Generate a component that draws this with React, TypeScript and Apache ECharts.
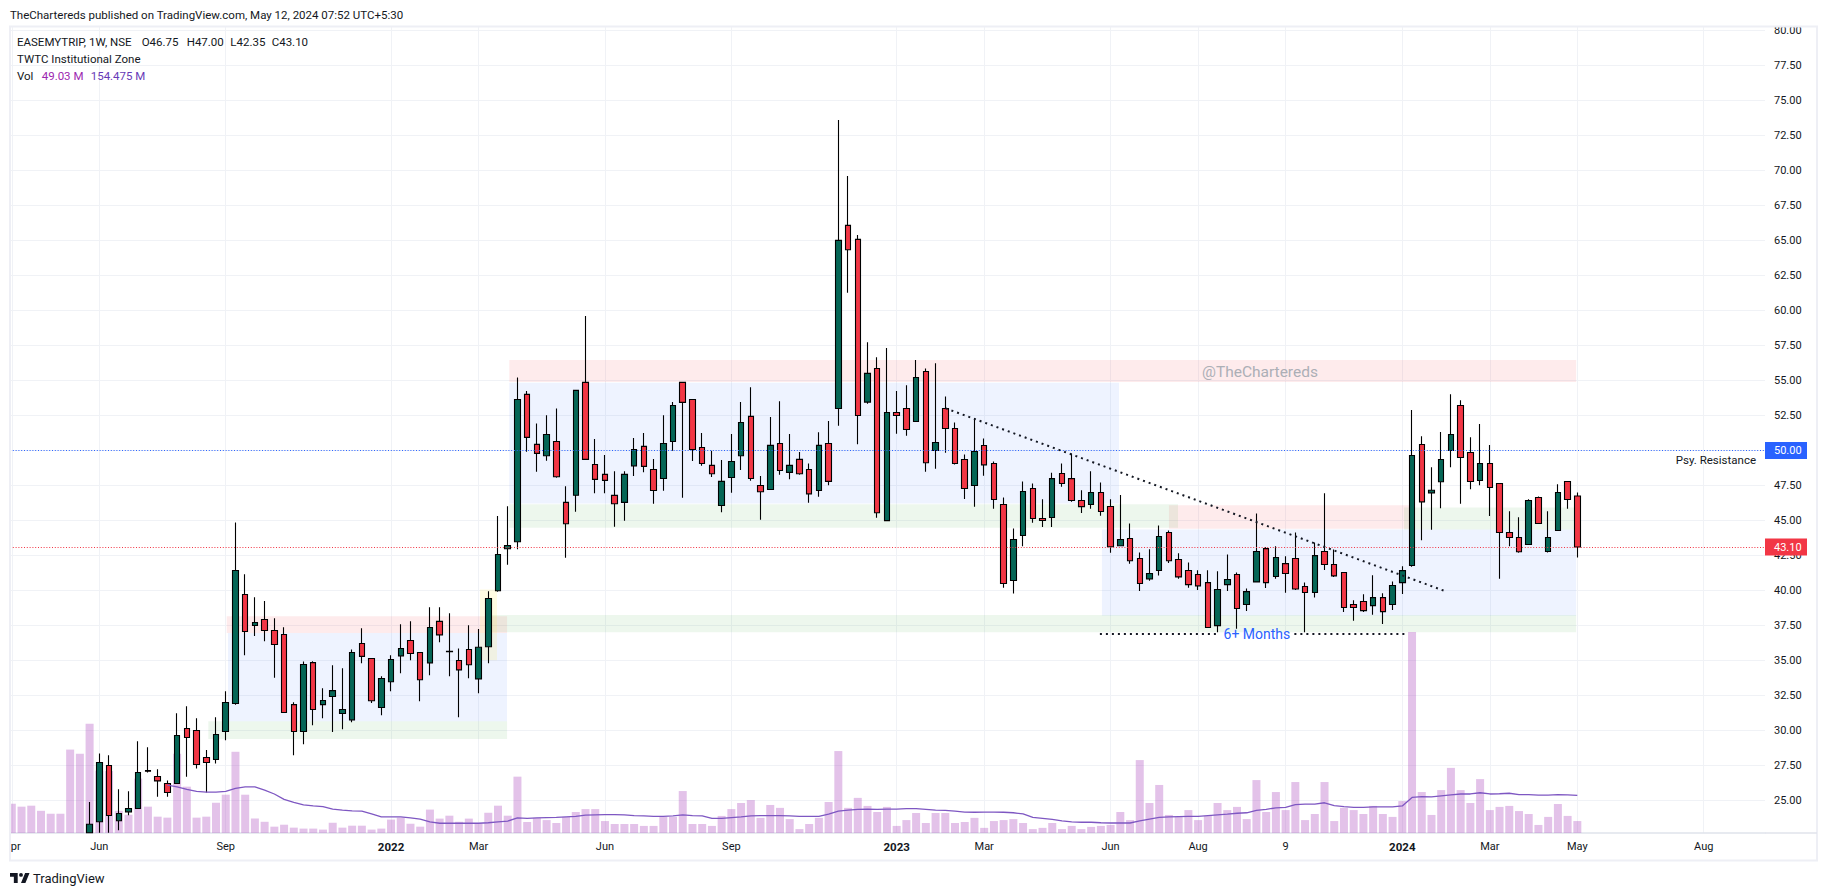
import React, { useEffect, useRef } from "react";
import * as echarts from "echarts";

const opens = [22.7,23.48,27.5,23.55,24.19,24.43,27.14,26.71,26.21,26.21,
30.14,30.0,28.07,27.93,29.93,31.93,39.71,37.5,37.93,37.14,
36.86,31.85,29.93,34.85,31.85,32.43,31.21,30.76,36.21,35.14,
31.64,33.48,35.33,36.43,35.57,34.83,37.79,35.66,35.0,35.78,
33.69,35.98,39.98,42.98,43.48,54.0,50.43,49.62,50.64,46.29,
46.8,54.86,49.0,48.29,46.79,46.29,48.9,50.29,48.64,48.0,
50.64,54.86,53.64,50.21,48.93,46.07,48.07,49.62,52.43,47.5,
47.21,50.5,48.43,49.36,48.64,47.14,50.5,53.0,66.07,65.07,
53.45,55.85,44.99,52.71,53.0,52.07,55.64,50.0,53.0,51.57,
49.35,47.5,50.35,49.07,46.14,40.71,43.92,47.28,45.14,45.21,
48.35,47.99,46.42,46.14,47.0,46.0,43.19,43.71,42.28,40.83,
41.43,44.14,42.21,41.43,41.14,40.56,37.49,40.42,41.14,39.0,
40.61,42.99,41.0,41.92,42.28,40.28,39.85,42.78,41.85,41.28,
39.0,39.21,38.92,39.49,39.0,40.56,41.78,50.42,46.97,47.76,
50.0,53.21,49.85,47.85,49.07,47.64,44.14,43.78,43.28,46.64,
42.78,44.28,47.78,46.75];
const closes = [23.3,27.71,23.93,24.07,24.43,27.0,27.09,26.4,25.57,29.64,
29.5,27.57,27.71,29.71,32.0,41.43,37.07,37.71,37.14,36.14,
31.29,29.93,34.71,31.5,32.14,32.85,31.5,35.57,35.29,32.12,
33.71,35.07,35.86,35.5,33.62,37.36,36.83,35.62,34.33,34.69,
35.95,39.43,42.57,43.21,53.64,50.93,49.79,51.14,48.12,44.76,
54.29,49.36,47.93,47.86,46.19,48.29,50.07,48.86,47.14,50.5,
53.21,53.43,50.07,49.07,48.33,47.79,49.21,52.0,48.0,47.05,
50.36,48.57,48.93,48.33,46.9,50.36,47.79,65.0,64.33,52.5,
55.5,45.55,52.71,52.5,51.5,55.21,49.12,50.57,51.57,49.07,
47.28,49.92,48.97,46.5,40.5,43.64,47.07,45.14,45.0,47.99,
47.64,46.42,45.99,47.0,45.64,43.12,43.64,42.12,40.5,41.21,
43.85,42.12,40.97,40.42,40.33,37.35,40.07,40.78,38.71,39.92,
42.78,40.56,42.35,41.21,40.11,39.85,42.49,41.85,41.04,38.78,
38.78,38.56,39.49,38.49,40.35,41.42,49.64,46.33,47.16,49.35,
51.14,49.5,47.78,49.07,47.35,44.14,43.78,42.76,46.42,44.78,
43.78,47.0,46.5,43.10];
const lows = [22.7,22.7,22.7,22.88,23.95,24.43,27.0,25.26,25.26,26.21,
26.69,27.29,25.57,27.64,29.31,31.83,35.38,36.74,36.38,33.76,
31.29,28.24,29.02,30.38,30.88,29.9,30.09,30.59,34.81,31.97,
31.09,32.81,34.09,35.02,32.09,33.95,36.31,33.88,30.95,33.74,
32.66,34.81,39.9,41.83,42.95,49.9,48.48,49.26,48.05,42.33,
45.62,49.36,46.95,46.95,44.55,44.98,48.17,48.45,46.19,47.12,
49.98,46.62,49.24,48.9,48.1,45.59,46.98,48.6,47.83,45.05,
47.21,48.26,47.95,48.26,46.26,46.69,47.52,51.76,61.26,50.45,
53.33,45.19,44.99,51.19,51.04,52.07,48.47,48.69,49.83,49.0,
46.54,45.97,48.19,45.83,40.19,39.78,43.16,44.83,44.54,44.54,
47.4,46.33,45.54,45.83,45.33,42.69,43.19,41.9,39.97,40.69,
41.07,41.97,40.83,40.19,40.04,37.35,37.02,39.97,37.26,38.54,
40.61,40.18,40.83,39.83,40.04,37.02,39.49,41.47,40.97,38.47,
37.83,38.47,38.26,37.61,38.61,39.75,41.69,43.59,44.33,45.88,
48.8,46.19,47.23,47.52,45.31,40.83,43.16,42.69,43.28,44.78,
42.71,44.28,45.83,42.35];
const highs = [24.9,28.36,28.24,25.81,25.66,29.24,28.81,27.24,26.43,31.24,
31.74,30.88,28.6,30.95,32.81,44.85,41.16,39.52,39.24,38.02,
37.38,32.02,34.93,34.95,33.02,34.66,34.45,35.78,37.31,35.14,
33.88,35.38,37.59,37.81,35.57,38.81,38.81,38.38,35.86,37.52,
37.24,39.95,45.31,46.02,55.21,54.24,51.93,52.52,53.0,47.45,
54.29,59.6,50.81,49.67,48.52,48.52,50.88,51.24,49.38,52.52,
53.45,54.86,53.64,51.24,49.98,49.31,51.17,53.45,54.52,48.17,
52.38,53.52,51.17,49.88,49.07,51.29,52.1,73.59,69.59,65.38,
57.73,56.66,57.31,54.24,54.66,56.45,55.85,56.23,53.85,52.0,
49.71,52.29,50.85,49.21,46.64,44.43,47.78,47.64,46.52,48.4,
49.07,49.78,47.16,48.52,47.71,46.52,46.81,44.78,42.71,42.95,
44.64,44.28,42.66,42.0,41.45,41.45,41.37,42.56,41.28,40.14,
45.49,43.11,43.16,42.45,44.14,40.56,43.42,46.95,42.92,41.28,
39.3,39.73,41.09,39.8,40.64,41.73,52.88,51.02,48.8,51.31,
54.02,53.59,50.95,51.88,50.38,47.64,45.66,45.23,46.52,46.71,
45.66,47.59,47.78,47.0];

// weekly volume in millions; the first entry belongs to week -8, the last to week 153
const volumes = [120,108,112,91,79,79,342,325,
448,255,254,91,75,223,108,67,63,325,
190,63,67,124,157,333,157,59,46,26,
34,22,18,18,14,42,22,30,30,14,
18,55,63,38,26,96,59,71,46,59,
38,83,112,71,231,45,62,53,41,66,
86,98,98,49,37,37,37,29,29,66,
66,172,37,37,29,70,98,123,135,62,
115,103,57,16,37,62,127,336,103,144,
111,86,107,29,53,82,41,82,82,41,
45,62,21,49,53,57,41,16,21,41,
16,29,16,25,29,33,86,53,299,123,
197,74,66,94,53,70,123,94,107,57,
217,86,168,94,209,53,78,209,49,103,
94,78,111,78,66,131,824,168,74,176,
267,176,123,221,94,107,111,90,78,33,
66,119,70,49.03];
// volume moving average; the first entry belongs to week 8
const volumeMA = [196,189,179,171,168,168,171,183,189,189,176,160,
138,126,115,111,108,98,94,91,90,78,66,66,66,62,57,46,40,40,40,40,40,42,46,49,62,
60,62,63,64,66,68,73,74,75,75,74,71,70,68,68,70,74,71,70,60,60,63,66,70,71,71,71,70,68,68,68,
77,90,94,97,98,97,98,98,100,100,97,94,93,90,86,85,86,86,85,83,78,64,60,56,50,46,44,44,42,41,41,41,
50,57,64,66,67,68,68,71,74,77,81,83,93,97,103,105,116,118,118,124,112,108,105,105,107,107,107,111,
146,149,148,152,156,160,160,165,160,161,163,157,157,155,155,157,156,154.475];

const priceTicks = [25,27.5,30,32.5,35,37.5,40,42.5,45,47.5,50,52.5,55,57.5,60,62.5,65,67.5,70,72.5,75,77.5,80];
const priceLabels = [25,27.5,30,32.5,35,37.5,40,42.5,45,47.5,52.5,55,57.5,60,62.5,65,67.5,70,72.5,75,77.5,80];
const timeGridWeeks = [-8,1,14,31,40,53,66,83,92,105,114,123,135,144,153,166];
const timeLabelWeeks = [-7.6,1,14,31,40,53,66,83,92,105,114,123,135,144,153,166];
const timeLabelTexts = ["pr","Jun","Sep","2022","Mar","Jun","Sep","2023","Mar","Jun","Aug","9","2024","Mar","May","Aug"];

// [weekFrom, priceFrom, weekTo, priceTo]
const redZones = [[14.1,38.16,42.93,36.97],[43.16,56.45,152.88,54.88],[111.0,46.09,135.7,44.4]];
const blueZones = [[14.23,36.97,42.93,30.66],[43.16,54.83,105.86,46.21],[104.11,44.36,152.88,38.2]];
const greenZones = [[12.21,30.66,42.93,29.4],[41.38,38.24,152.88,37.02],[43.16,46.16,111.93,44.47],[135.18,45.93,152.88,44.36]];
const yellowZones = [[40.15,40.07,41.9,35.02]];
const trendLine = [[88.05,53.0],[139.62,39.9]];
const baseLines = [[[103.9,36.88],[116.2,36.88]],[[123.9,36.88],[135.6,36.88]]];
const resistancePrice = 50;
const lastPrice = 43.1;
const notes = [
  { text: "Psy. Resistance", week: 167.25, price: 49.31, color: "#131722", size: 11.5 },
  { text: "6+ Months", week: 120.05, price: 36.88, color: "#2962FF", size: 14 },
  { text: "@TheChartereds", week: 120.36, price: 55.63, color: "#ACAFB6", size: 15.5 },
];

const FONT = "Roboto, 'Noto Sans', sans-serif";
const GRID_LINE = "#F0F2F6";
const weekMin = -8.186;
const weekMax = 172.3;

const zoneAreas = (zones: number[][], color: string) =>
  zones.map((z) => [
    { coord: [z[0], z[1]], itemStyle: { color, borderWidth: 0 } },
    { coord: [z[2], z[3]] },
  ]);

const logoPath =
  "M14 22H7V11H0V4h14v18zM28 22h-8l7.5-18h8L28 22zM20 4a3.5 3.5 0 1 1 0 7 3.5 3.5 0 0 1 0-7z";
echarts.graphic.registerShape("tvlogo", echarts.graphic.extendPath(logoPath, {}));

const legendText = (text: string, x: number, y: number, fill = "#131722") => ({
  type: "text",
  x,
  y,
  z: 50,
  style: { text, fill, font: `11.5px ${FONT}`, textAlign: "left", textVerticalAlign: "middle" },
});

const priceTag = (value: number, color: string) => ({
  show: true,
  position: "end",
  distance: 0,
  formatter: value.toFixed(2),
  color: "#fff",
  backgroundColor: color,
  fontFamily: FONT,
  fontSize: 11,
  width: 27,
  align: "left",
  padding: [2, 6, 2, 9],
  lineHeight: 13,
});

export default function App() {
  const ref = useRef<HTMLDivElement>(null);
  useEffect(() => {
    const chart = echarts.init(ref.current!, undefined, { renderer: "svg" });
    chart.setOption({
      animation: false,
      backgroundColor: "#ffffff",
      grid: { left: 10, right: 62, top: 26, bottom: 63, containLabel: false },
      xAxis: {
        type: "value",
        min: weekMin,
        max: weekMax,
        axisLine: { show: true, lineStyle: { color: "#E0E3EB", width: 1.5 } },
        axisTick: { show: false, customValues: timeGridWeeks },
        splitLine: { show: true, lineStyle: { color: GRID_LINE, width: 1 } },
        axisLabel: {
          customValues: timeLabelWeeks,
          margin: 8,
          color: "#131722",
          fontFamily: FONT,
          fontSize: 11,
          formatter: (v: number) => {
            const t = timeLabelTexts[timeLabelWeeks.indexOf(v)] ?? "";
            return /^20/.test(t) ? `{b|${t}}` : t;
          },
          rich: { b: { fontWeight: "bold", fontFamily: FONT, fontSize: 11.5, color: "#131722" } },
        },
      },
      yAxis: [
        {
          type: "value",
          position: "right",
          min: 22.68,
          max: 80.31,
          axisLine: { show: false },
          axisTick: { show: false, customValues: priceTicks },
          splitLine: { show: true, lineStyle: { color: GRID_LINE, width: 1 } },
          axisLabel: {
            customValues: priceLabels,
            margin: 9,
            color: "#131722",
            fontFamily: FONT,
            fontSize: 11,
            formatter: (v: number) => v.toFixed(2),
          },
        },
        { type: "value", min: 0, max: 3309, show: false, splitLine: { show: false } },
      ],
      series: [
        {
          type: "bar",
          yAxisIndex: 1,
          z: 1,
          barWidth: 8,
          clip: true,
          itemStyle: { color: "rgba(171,71,188,0.33)" },
          data: volumes.map((v, i) => [i - 8, v]),
        },
        {
          type: "candlestick",
          z: 2,
          barWidth: 6,
          clip: true,
          encode: { x: 0, y: [1, 2, 3, 4] },
          itemStyle: {
            color: "#056656",
            color0: "#F23645",
            borderColor: "#000000",
            borderColor0: "#000000",
            borderWidth: 1.1,
          },
          data: opens.map((o, i) => [i, o, closes[i], lows[i], highs[i]]),
        },
        {
          type: "line",
          yAxisIndex: 1,
          z: 3,
          showSymbol: false,
          lineStyle: { color: "#7E57C2", width: 1.3 },
          data: volumeMA.map((v, i) => [i + 8, v]),
        },
        {
          type: "line",
          z: 5,
          data: [],
          markArea: {
            silent: true,
            data: [
              ...zoneAreas(redZones, "rgba(242,54,69,0.1)"),
              ...zoneAreas(blueZones, "rgba(41,98,255,0.08)"),
              ...zoneAreas(greenZones, "rgba(76,175,80,0.1)"),
              ...zoneAreas(yellowZones, "rgba(255,235,59,0.14)"),
            ],
          },
        },
        {
          type: "line",
          z: 6,
          data: [],
          markLine: {
            silent: true,
            symbol: "none",
            animation: false,
            data: [
              [
                {
                  coord: [weekMin, resistancePrice],
                  lineStyle: { color: "#2962FF", width: 1.2, type: [1, 1.8] },
                  label: priceTag(resistancePrice, "#2962FF"),
                },
                { coord: [weekMax, resistancePrice] },
              ],
              [
                {
                  coord: [weekMin, lastPrice],
                  lineStyle: { color: "#F23645", width: 1.2, type: [1, 1.8] },
                  label: priceTag(lastPrice, "#F23645"),
                },
                { coord: [weekMax, lastPrice] },
              ],
              [
                { coord: trendLine[0], lineStyle: { color: "#131722", width: 2, type: [2, 4] }, label: { show: false } },
                { coord: trendLine[1] },
              ],
              ...baseLines.map((l) => [
                { coord: l[0], lineStyle: { color: "#131722", width: 2, type: [2, 4] }, label: { show: false } },
                { coord: l[1] },
              ]),
            ],
          },
          markPoint: {
            silent: true,
            symbol: "circle",
            symbolSize: 0,
            data: notes.map((n) => ({
              coord: [n.week, n.price],
              label: {
                show: true,
                position: "inside",
                formatter: n.text,
                color: n.color,
                fontFamily: FONT,
                fontSize: n.size,
              },
            })),
          },
        },
      ],
      graphic: [
        { type: "rect", z: 40, shape: { x: 0, y: 800, width: 9.5, height: 34 }, style: { fill: "#ffffff" } },
        { type: "rect", z: 41, shape: { x: 10, y: 26.5, width: 1807, height: 834 }, style: { fill: "none", stroke: "#EEEFF5", lineWidth: 2 } },
        { type: "line", z: 41, shape: { x1: 1765, y1: 833, x2: 1817, y2: 833 }, style: { stroke: "#E0E3EB", lineWidth: 1.5 } },
        legendText("TheChartereds published on TradingView.com, May 12, 2024 07:52 UTC+5:30", 10, 14.5),
        legendText("EASEMYTRIP, 1W, NSE", 17, 41.5),
        legendText("O46.75", 141.7, 41.5),
        legendText("H47.00", 186.7, 41.5),
        legendText("L42.35", 230.3, 41.5),
        legendText("C43.10", 271.7, 41.5),
        legendText("TWTC Institutional Zone", 17, 59),
        legendText("Vol", 17, 76),
        legendText("49.03 M", 41.7, 76, "#9C27B0"),
        legendText("154.475 M", 90.7, 76, "#673AB7"),
        { type: "tvlogo", x: 10, y: 870.8, scaleX: 0.55, scaleY: 0.55, z: 50, style: { fill: "#131722" } },
        {
          type: "text",
          x: 33,
          y: 878,
          z: 50,
          style: { text: "TradingView", fill: "#131722", font: `13px ${FONT}`, textVerticalAlign: "middle" },
        },
      ],
    });
    return () => chart.dispose();
  }, []);
  return (
    <div
      ref={ref}
      style={{ position: "absolute", left: 0, top: 0, width: 1827, height: 896, background: "#fff" }}
    />
  );
}
